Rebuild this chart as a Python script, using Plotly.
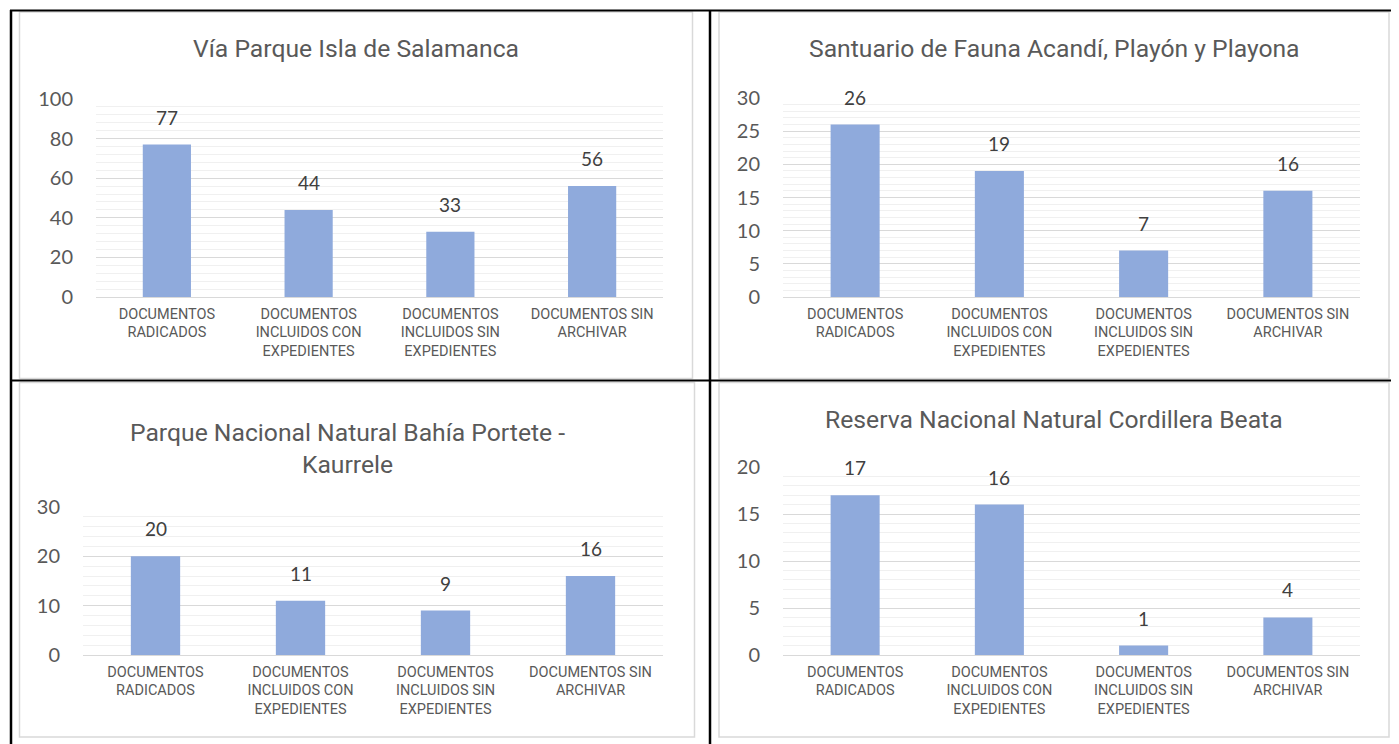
import plotly.graph_objects as go

# The page body has an 8px margin; the figure is sized so that it fills the
# 1399x744 window from (8, 8).
OFF = 8
W, H = 1399 - OFF, 744 - OFF

categories = [
    "DOCUMENTOS<br>RADICADOS",
    "DOCUMENTOS<br>INCLUIDOS CON<br>EXPEDIENTES",
    "DOCUMENTOS<br>INCLUIDOS SIN<br>EXPEDIENTES",
    "DOCUMENTOS SIN<br>ARCHIVAR",
]

titles = [
    "Vía Parque Isla de Salamanca",
    "Santuario de Fauna Acandí, Playón y Playona",
    "Parque Nacional Natural Bahía Portete -<br>Kaurrele",
    "Reserva Nacional Natural Cordillera Beata",
]

values_salamanca = [77, 44, 33, 56]
values_acandi = [26, 19, 7, 16]
values_portete = [20, 11, 9, 16]
values_beata = [17, 16, 1, 4]

y_max = [100, 30, 30, 20]
y_major = [20, 5, 10, 5]
y_minor = [4, 1, 2, 1]

series = [values_salamanca, values_acandi, values_portete, values_beata]

# layout geometry (window pixels): plot area x0, x1, y_top, y_bottom
plot_px = [
    (96, 663, 99, 297),
    (783, 1360, 98, 297),
    (83, 663, 507, 655),
    (783, 1360, 467, 655),
]
title_px = [(356, 48), (1054, 48), (347, 448.5), (1054, 419)]
panel_px = [
    (19.5, 12, 692.5, 378.5),
    (719, 12, 1389, 378.5),
    (19.5, 382.5, 694.5, 737),
    (719, 382.5, 1389, 737),
]

def px(x):
    return (x - OFF) / W

def py(y):
    return 1 - (y - OFF) / H

BAR = "#8faadc"
TXT = "#595959"
NUM_FONT = "Lato, Carlito, Calibri, sans-serif"
NARROW = "Liberation Sans Narrow, Arial Narrow, Roboto, sans-serif"

fig = go.Figure()
layout = dict(
    width=W, height=H,
    margin=dict(l=0, r=0, t=0, b=0, autoexpand=False),
    paper_bgcolor="white", plot_bgcolor="white",
    showlegend=False,
    bargap=0.66,
)
annotations = []
shapes = []

for i, vals in enumerate(series):
    n = "" if i == 0 else str(i + 1)
    xa, ya = "x" + n, "y" + n
    fig.add_trace(go.Bar(
        x=categories, y=vals, marker=dict(color=BAR, line=dict(width=0)),
        xaxis=xa, yaxis=ya, hoverinfo="skip",
    ))
    x0, x1, yt, yb = plot_px[i]
    layout["xaxis" + n] = dict(
        domain=[px(x0), px(x1)], anchor=ya, type="category",
        showgrid=False, showline=False, zeroline=False, ticks="",
        tickfont=dict(family=NARROW, size=14.5, color=TXT),
        ticklabelstandoff=6, fixedrange=True, automargin=False,
    )
    layout["yaxis" + n] = dict(
        domain=[py(yb), py(yt)], anchor=xa, range=[0, y_max[i]],
        dtick=y_major[i], tick0=0, showgrid=True, gridcolor="#d9d9d9", gridwidth=1.3,
        zeroline=True, zerolinecolor="#d9d9d9", zerolinewidth=1.3,
        showline=False, ticks="",
        minor=dict(dtick=y_minor[i], tick0=0, showgrid=True, gridcolor="#f0f0f0", gridwidth=1.3),
        tickfont=dict(family=NUM_FONT, size=20, color=TXT),
        ticklabelstandoff=22, fixedrange=True, automargin=False,
    )
    for c, v in zip(categories, vals):
        annotations.append(dict(
            x=c, y=v, xref=xa, yref=ya, text=str(v), showarrow=False,
            yanchor="bottom", yshift=14,
            font=dict(family=NUM_FONT, size=19, color="#404040"),
        ))
    tx, ty = title_px[i]
    annotations.append(dict(
        x=px(tx), y=py(ty), xref="paper", yref="paper", text=titles[i],
        showarrow=False, xanchor="center", yanchor="middle",
        font=dict(family=NARROW, size=24.7, color=TXT),
    ))
    a, b, c2, d = panel_px[i]
    shapes.append(dict(type="rect", xref="paper", yref="paper",
                       x0=px(a), x1=px(c2), y0=py(d), y1=py(b),
                       line=dict(color="#d9d9d9", width=1.5), layer="below"))

# table borders
black = dict(color="black", width=2.5)
shapes += [
    dict(type="line", xref="paper", yref="paper", x0=px(11), x1=px(11), y0=py(10), y1=py(744), line=black),
    dict(type="line", xref="paper", yref="paper", x0=px(710), x1=px(710), y0=py(10), y1=py(744), line=black),
    dict(type="line", xref="paper", yref="paper", x0=px(10), x1=px(1399), y0=py(10.5), y1=py(10.5), line=dict(color="black", width=2)),
    dict(type="line", xref="paper", yref="paper", x0=px(10), x1=px(1399), y0=py(380.5), y1=py(380.5), line=dict(color="black", width=2)),
]

layout["annotations"] = annotations
layout["shapes"] = shapes
fig.update_layout(**layout)
fig.write_html("out.html")
